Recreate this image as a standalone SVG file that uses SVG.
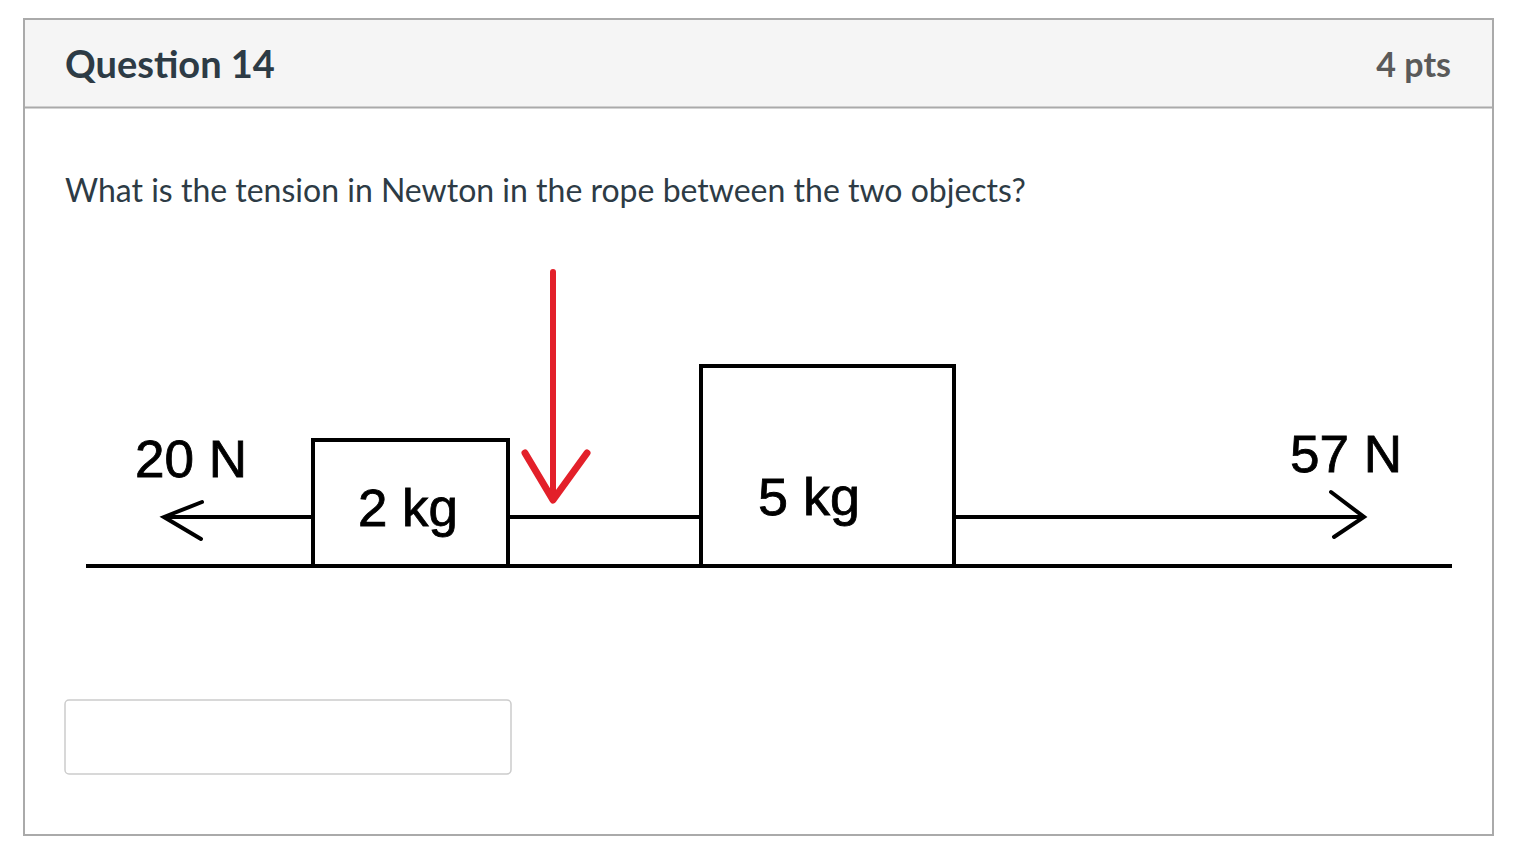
<svg xmlns="http://www.w3.org/2000/svg" width="1517" height="862" viewBox="0 0 1517 862">
<style>
.ui{font-family:Lato,"Open Sans","Liberation Sans",sans-serif}
.lbl{font-family:"Liberation Sans",Arial,sans-serif;font-size:51px;fill:#000;stroke:#000;stroke-width:0.8}
.box{fill:#fff;stroke:#000;stroke-width:4}
.ln{stroke:#000;stroke-width:4;fill:none;stroke-linecap:butt}
.head{stroke:#000;stroke-width:4;fill:none;stroke-linecap:round;stroke-linejoin:miter}
</style>
<rect width="1517" height="862" fill="#fff"/>
<g id="card">
<rect x="24" y="19" width="1469" height="88" fill="#f5f5f5"/>
<rect x="24" y="19" width="1469" height="816" fill="none" stroke="#aaaaaa" stroke-width="2"/>
<line x1="24" y1="107.5" x2="1493" y2="107.5" stroke="#aaaaaa" stroke-width="2"/>
<text class="ui" x="65" y="78" font-size="38" font-weight="bold" fill="#2d3b45">Question 14</text>
<text class="ui" x="1451" y="77" font-size="34" font-weight="bold" fill="#5a5a5a" text-anchor="end">4 pts</text>
<text class="ui" x="65" y="202" font-size="32" fill="#2d3b45">What is the tension in Newton in the rope between the two objects?</text>
</g>
<g id="ground"><line class="ln" x1="86" y1="566" x2="1452" y2="566"/></g>
<g id="connectors">
<line class="ln" x1="508" y1="517" x2="701" y2="517"/>
<line class="ln" x1="313" y1="517" x2="164" y2="517"/>
<polyline class="head" points="202,502 164,517 201,539"/>
<line class="ln" x1="954" y1="517" x2="1364" y2="517"/>
<polyline class="head" points="1331,492 1364,517 1334,537"/>
<line x1="553" y1="272" x2="553" y2="498" stroke="#e3202a" stroke-width="6" stroke-linecap="round"/>
<polyline points="525,453 553,500 587,453" fill="none" stroke="#e3202a" stroke-width="7" stroke-linecap="round" stroke-linejoin="round"/>
</g>
<g id="block2">
<rect class="box" x="313" y="440" width="195" height="126"/>
<text class="lbl" x="358" y="526" textLength="100" lengthAdjust="spacingAndGlyphs">2 kg</text>
</g>
<g id="block5">
<rect class="box" x="701" y="366" width="253" height="200"/>
<text class="lbl" x="758" y="515" textLength="102" lengthAdjust="spacingAndGlyphs">5 kg</text>
</g>
<g id="labels">
<text class="lbl" x="135" y="477" textLength="112" lengthAdjust="spacingAndGlyphs">20 N</text>
<text class="lbl" x="1290" y="472" textLength="112" lengthAdjust="spacingAndGlyphs">57 N</text>
</g>
<g id="answer">
<rect x="65" y="700" width="446" height="74" rx="4" fill="#fff" stroke="#cccccc" stroke-width="1.5"/>
</g>
</svg>
